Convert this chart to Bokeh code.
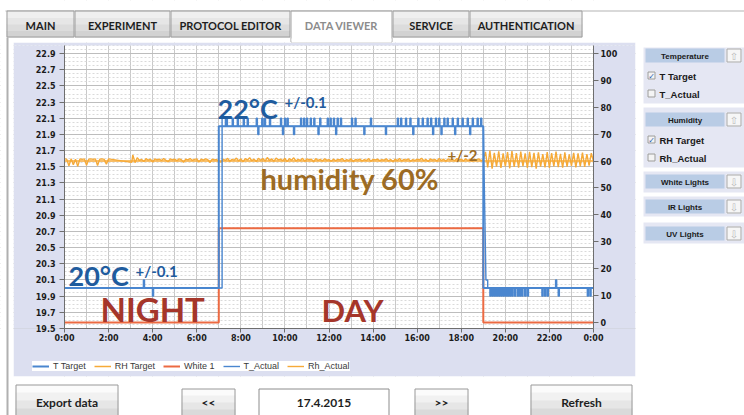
from bokeh.plotting import figure
from bokeh.models import (Range1d, LinearAxis, FixedTicker, PrintfTickFormatter,
                          BoxAnnotation, Label, Legend, LegendItem)
from bokeh.embed import file_html
from bokeh.resources import INLINE

# ------------------------------------------------------------------ data
x_ticks = [0, 2, 4, 6, 8, 10, 12, 14, 16, 18, 20, 22, 24]
x_tick_labels = ["0:00", "2:00", "4:00", "6:00", "8:00", "10:00", "12:00",
                 "14:00", "16:00", "18:00", "20:00", "22:00", "0:00"]
temp_ticks = [19.5, 19.7, 19.9, 20.1, 20.3, 20.5, 20.7, 20.9, 21.1, 21.3,
              21.5, 21.7, 21.9, 22.1, 22.3, 22.5, 22.7, 22.9]
rh_ticks = [0, 10, 20, 30, 40, 50, 60, 70, 80, 90, 100]
hour_grid = list(range(25))

t_target_time = [0, 7, 7, 19, 19, 24]
t_target_val = [20.0, 20.0, 22.0, 22.0, 20.0, 20.0]

rh_target_time = [0, 24]
rh_target_val = [60, 60]

white1_time = [0, 7, 7, 19, 19, 24]
white1_val = [0, 0, 35, 35, 0, 0]

# T_Actual: main course plus short excursions of +/-0.1 degC
t_actual_key_time = [0.0, 7.15, 7.15, 7.3, 7.3, 19.0, 19.12, 19.2, 19.2, 24.0]
t_actual_key_val = [20.0, 20.0, 22.1, 22.1, 22.0, 22.0, 20.1, 20.1, 20.0, 20.0]
t_actual_up_times = [3.58, 7.34, 7.61, 7.84, 8.11, 8.29, 8.70, 8.95, 9.07, 9.30,
                     9.80, 9.98, 10.10, 10.71, 10.85, 10.98, 11.15, 11.31, 11.58,
                     11.92, 12.05, 12.20, 12.37, 12.52, 13.02, 13.18, 13.88, 15.10,
                     15.25, 15.47, 15.67, 16.03, 16.23, 16.45, 16.61, 16.83, 16.98,
                     17.21, 17.36, 17.59, 17.82, 18.04, 18.27, 18.50, 18.72, 18.88,
                     22.28]
t_actual_down_times = [3.99, 8.77, 9.89, 10.39, 11.50, 12.30, 13.58, 14.56, 15.80,
                       16.70, 17.08, 17.70, 18.38, 19.30, 19.40, 19.50, 19.60,
                       19.70, 19.80, 19.90, 20.00, 20.10, 20.20, 20.30, 20.42,
                       20.55, 20.65, 20.75, 20.88, 21.00, 21.66, 21.78, 21.90,
                       22.40, 23.72, 23.84]

# Rh_Actual samples
rh_a_time = [0.0, 0.1, 0.2, 0.3, 0.4, 0.5, 0.6, 0.7, 0.8, 0.9, 1.0, 1.1, 1.2,
             1.3, 1.4, 1.5, 1.6, 1.7, 1.8, 1.9, 2.0, 3.05]
rh_a_val = [60.8, 60.7, 58.2, 60.8, 58.6, 60.7, 58.0, 60.8, 60.6, 60.8, 58.4,
            60.7, 60.8, 60.6, 60.8, 58.3, 60.7, 60.8, 60.6, 58.8, 60.8, 59.5]
rh_b_start = 3.1
rh_b_val = [62.3, 59.4, 61.2, 60.2, 60.6, 59.8, 60.9, 60.3, 60.7, 59.6, 60.8,
            60.4, 60.7, 60.2, 60.9, 60.3, 59.7, 60.8, 60.4, 60.7, 60.1, 60.8,
            60.5, 59.5, 60.7, 60.4, 60.9, 60.2, 60.6, 60.8, 59.6, 60.7, 60.3,
            60.8, 60.5, 59.4, 60.7, 60.4, 60.6, 59.8]
rh_c_start = 7.1
rh_c_val = [59.6, 60.7, 60.2, 61.0, 59.9, 60.6, 60.3, 61.1, 60.0, 60.8, 59.7, 60.9, 60.4, 61.2, 60.1, 60.7, 59.8, 61.0, 60.3, 60.9,
            60.0, 61.3, 60.2, 60.8, 59.9, 61.1, 60.4, 60.7, 60.1, 61.0, 59.8, 60.9, 60.3, 61.2, 60.0, 60.6, 60.2, 61.0, 59.9, 60.8,
            60.4, 60.7, 59.7, 60.9, 60.2, 60.6, 60.0, 60.8, 60.3, 60.5, 59.9, 60.7, 60.1, 60.6, 60.4, 60.9, 60.0, 60.5, 60.2, 60.8,
            59.8, 60.6, 60.3, 60.7, 60.0, 60.5, 60.2, 60.9, 59.9, 60.6, 60.4, 60.7, 60.1, 60.5, 60.3, 60.8, 60.0, 60.6, 59.7, 60.7,
            60.2, 60.9, 60.0, 60.6, 60.3, 60.8, 59.9, 60.5, 60.2, 60.7, 60.4, 61.0, 60.1, 60.6, 59.8, 60.8, 60.3, 60.6, 60.0, 60.9,
            60.2, 60.7, 59.9, 60.8, 60.4, 60.6, 60.1, 60.9, 60.3, 60.7, 60.0, 60.8, 60.2, 60.6, 59.9, 60.7, 60.4, 60.8, 60.1, 60.5]
rh_d_start = 19.1
rh_d_val = [63.4, 57.6, 63.9, 57.2, 63.0, 57.9, 63.6, 57.4, 62.8, 58.0, 63.3, 57.3, 63.7, 57.8, 62.9, 57.5, 63.5, 58.1, 62.8, 57.4,
            63.4, 57.7, 63.0, 57.2, 63.2, 57.9, 62.6, 57.6, 63.3, 57.4, 62.9, 58.0, 63.5, 57.7, 62.7, 57.5, 63.2, 57.9, 62.5, 58.2,
            63.0, 57.6, 62.8, 58.0, 63.1, 57.8, 62.6, 58.3, 62.9, 59.8]
rh_step = 0.1

legend_labels = ["T Target", "RH Target", "White 1", "T_Actual", "Rh_Actual"]
tab_names = ["MAIN", "EXPERIMENT", "PROTOCOL EDITOR", "DATA VIEWER", "SERVICE", "AUTHENTICATION"]
active_tab = "DATA VIEWER"

# ------------------------------------------------------------------ build series
rh_t = list(rh_a_time)
rh_v = list(rh_a_val)
for start, vals in [(rh_b_start, rh_b_val), (rh_c_start, rh_c_val), (rh_d_start, rh_d_val)]:
    rh_t += [round(start + rh_step * i, 2) for i in range(len(vals))]
    rh_v += vals

pts = []
order = 0
for t, v in zip(t_actual_key_time, t_actual_key_val):
    pts.append((t, order, v)); order += 1
SPIKE_W = 0.05
for times, d in [(t_actual_up_times, 0.1), (t_actual_down_times, -0.1)]:
    for t in times:
        base = 22.0 if 7.3 <= t <= 19.0 else 20.0
        for tt, vv in [(t, base), (t, base + d), (t + SPIKE_W, base + d), (t + SPIKE_W, base)]:
            pts.append((tt, order, vv)); order += 1
pts.sort(key=lambda q: (q[0], q[1]))
ta_t = [q[0] for q in pts]
ta_v = [q[2] for q in pts]

# ------------------------------------------------------------------ geometry / styles
LAV = "#dcdff0"
BLUE = "#4a86cf"
ORANGE = "#f6aa38"
RED = "#ec6a42"
ANN_BLUE = "#1f5c9e"
ANN_BROWN = "#9c6b24"
ANN_RED = "#a5362a"

W, H = 744, 415
FL, FR, FT, FB = 64, 593, 45, 328          # plot area in page pixels
XR = (0, 24)
YR = (19.5, 23.0)
RHR = (-2.2, 102.9)


def X(px):
    return XR[0] + (px - FL) / (FR - FL) * (XR[1] - XR[0])


def Y(py):
    return YR[0] + (FB - py) / (FB - FT) * (YR[1] - YR[0])


def RH(py):
    return RHR[0] + (FB - py) / (FB - FT) * (RHR[1] - RHR[0])


# the frame is the whole page; the axes are pinned to the plot-area edges
p = figure(width=W, height=H, output_backend="svg", toolbar_location=None, title=None,
           x_range=Range1d(X(0), X(W)), y_range=Range1d(Y(H), Y(0)),
           min_border=0, min_border_left=0, min_border_right=0,
           min_border_top=0, min_border_bottom=0,
           border_fill_color="white", background_fill_color="white",
           outline_line_color=None)
p.extra_y_ranges = {"rh": Range1d(RH(H), RH(0))}

xax = p.xaxis[0]
lax = p.yaxis[0]
rax = LinearAxis(y_range_name="rh", ticker=FixedTicker(ticks=rh_ticks))
p.add_layout(rax, "right")

xax.ticker = FixedTicker(ticks=x_ticks)
xax.major_label_overrides = dict(zip(x_ticks, x_tick_labels))
xax.fixed_location = YR[0]
xax.bounds = XR
lax.ticker = FixedTicker(ticks=temp_ticks)
lax.formatter = PrintfTickFormatter(format="%.1f")
lax.fixed_location = XR[0]
lax.bounds = YR
rax.fixed_location = XR[1]
rax.bounds = RHR

for ax in (xax, lax, rax):
    ax.axis_line_color = "#6e6e6e"
    ax.major_tick_line_color = "#6e6e6e"
    ax.major_tick_out = 5
    ax.major_tick_in = 0
    ax.minor_tick_line_color = None
    ax.major_label_text_font = "DejaVu Sans"
    ax.major_label_text_font_size = "8px"
    ax.major_label_text_font_style = "bold"
    ax.major_label_text_color = "#1b1b1b"
xax.major_tick_out = 4
xax.major_label_standoff = 1
lax.major_label_standoff = 4
rax.major_label_standoff = 2

p.xgrid.ticker = FixedTicker(ticks=hour_grid)
p.xgrid.grid_line_color = "#c9c9c9"
p.ygrid.ticker = FixedTicker(ticks=temp_ticks,
                             minor_ticks=[round(19.5 + 0.05 * k, 2) for k in range(71)])
p.ygrid.grid_line_color = "#bdbdbd"
p.ygrid.minor_grid_line_color = "#dadada"
p.ygrid.minor_grid_line_dash = "2 2"

r_w1 = p.line(white1_time, white1_val, y_range_name="rh", line_color=RED, line_width=2)
r_rht = p.line(rh_target_time, rh_target_val, y_range_name="rh", line_color=ORANGE, line_width=1.5)
r_rha = p.line(rh_t, rh_v, y_range_name="rh", line_color=ORANGE, line_width=1.4)
r_tt = p.line(t_target_time, t_target_val, line_color=BLUE, line_width=2)
r_ta = p.line(ta_t, ta_v, line_color=BLUE, line_width=1.4)


# ------------------------------------------------------------------ helpers (page pixels)
def box(x0, y0, x1, y1, fill=None, line=None, lw=1, level="annotation"):
    p.add_layout(BoxAnnotation(left=X(x0), right=X(x1), top=Y(y0), bottom=Y(y1),
                               fill_color=fill, fill_alpha=1 if fill else 0,
                               line_color=line, line_alpha=1 if line else 0, line_width=lw,
                               level=level))


def txt(s, px, py, size, color, font="Lato", style="bold", align="left"):
    p.add_layout(Label(x=X(px), y=Y(py), text=s, text_font=font,
                       text_font_size=f"{size}px", text_font_style=style,
                       text_color=color, text_align=align, text_baseline="middle"))


def gradient(x0, y0, x1, y1, colors):
    n = len(colors)
    h = (y1 - y0) / n
    for i, c in enumerate(colors):
        box(x0, y0 + i * h, x1, y0 + (i + 1) * h + (0.5 if i < n - 1 else 0), c)


# lavender panel around the plot area and white page around it (hide grid outside the plot)
U = "underlay"
box(13, 42, 635, FT, LAV, level=U)
box(13, FB, 635, 376, LAV, level=U)
box(13, FT, FL, FB, LAV, level=U)
box(FR, FT, 635, FB, LAV, level=U)
box(0, 0, W, 42, "white", level=U)
box(0, 42, 13, H, "white", level=U)
box(635, 42, W, H, "white", level=U)
box(13, 376, 635, H, "white", level=U)
box(6, 37, 8, H, "#b0b0b0", level=U)

# texts written on the chart (y = vertical centre of the capitals)
txt("22°C", 217, 107.5, 27, ANN_BLUE)
txt("+/-0.1", 284, 101.5, 15, ANN_BLUE)
txt("20°C", 68, 274.5, 27, ANN_BLUE)
txt("+/-0.1", 135, 270.5, 15, ANN_BLUE)
txt("humidity 60%", 260, 177.5, 29, ANN_BROWN)
txt("+/-2", 447, 154.5, 15, ANN_BROWN)
txt("NIGHT", 100, 308.5, 33, ANN_RED)
txt("DAY", 321, 309.5, 31, ANN_RED)

# ---- tabs
box(5, 10, W, 11, "#b4b4b4")
tab_x = [6, 74, 170, 290, 392, 469, 582]
for i, name in enumerate(tab_names):
    x0, x1 = tab_x[i], tab_x[i + 1]
    if name == active_tab:
        box(x0, 11, x1, 42, "white")
        box(x0 + 0.5, 10.5, x1 - 0.5, 41.5, None, "#a2a2a2")
        box(x0 + 1, 38, x1 - 1, 42, "white")
        txt(name, (x0 + x1) / 2, 24.5, 11, "#8c8c8c", align="center")
    else:
        gradient(x0, 11, x1, 37, ["#efefef", "#e6e6e6", "#dcdcdc", "#d2d2d2"])
        box(x0 + 0.5, 10.5, x1 - 0.5, 36.5, None, "#9e9e9e")
        txt(name, (x0 + x1) / 2, 24.5, 11, "#1e1e1e", align="center")

# ---- sidebar
groups = [
    ("Temperature", 47, 103, 48, 62, [("T Target", True, 75), ("T_Actual", False, 93)], "⇧"),
    ("Humidity", 107, 167, 112, 126, [("RH Target", True, 139), ("Rh_Actual", False, 157)], "⇧"),
    ("White Lights", 171, 192, 174, 188, [], "⇩"),
    ("IR Lights", 196, 216, 199, 213, [], "⇩"),
    ("UV Lights", 222, 243, 226, 240, [], "⇩"),
]
for head, gy0, gy1, hy0, hy1, checks, arrow in groups:
    box(643, gy0, W, gy1, "#e5e7f3")
    box(645, hy0, 724, hy1, "#b9cce5")
    txt(head, 684.5, (hy0 + hy1) / 2 + 0.5, 8, "#1a1a1a", font="Liberation Sans", align="center")
    box(726, hy0, 741, hy1, "#f6f6f6")
    box(726.5, hy0 + 0.5, 740.5, hy1 - 0.5, None, "#a9a9a9")
    txt(arrow, 733.5, (hy0 + hy1) / 2 + 0.5, 10, "#b9b9b9", font="DejaVu Sans",
        style="normal", align="center")
    for lab, checked, cy in checks:
        box(647, cy - 4, 655, cy + 4, "#f4f4f4")
        box(647.5, cy - 3.5, 654.5, cy + 3.5, None, "#9a9a9a")
        if checked:
            txt("✓", 651, cy + 0.5, 8, "#2f5fb0", font="DejaVu Sans", align="center")
        txt(lab, 659, cy + 0.5, 9.5, "#1a1a1a", font="Liberation Sans")


# ---- bottom buttons
def button(x0, y0, x1, y1, label):
    gradient(x0, y0, x1, y1, ["#fbfbfb", "#f1f1f1", "#e6e6e6", "#dadada"])
    box(x0 + 0.5, y0 + 0.5, x1 - 0.5, y1 + 10, None, "#9a9a9a")
    txt(label, (x0 + x1) / 2, 402, 12, "#1e1e1e", align="center")


button(15, 384, 118, 416, "Export data")
button(181, 388, 235, 416, "<<")
box(258, 388, 389, 416, "white")
box(258.5, 388.5, 388.5, 426, None, "#8c8c8c")
txt("17.4.2015", 323.5, 402, 12, "#1e1e1e", align="center")
button(414, 388, 468, 416, ">>")
button(530, 384, 632, 416, "Refresh")

# ---- legend of the chart (white strip inside the lavender panel)
legend = Legend(items=[LegendItem(label=legend_labels[0], renderers=[r_tt]),
                       LegendItem(label=legend_labels[1], renderers=[r_rht]),
                       LegendItem(label=legend_labels[2], renderers=[r_w1]),
                       LegendItem(label=legend_labels[3], renderers=[r_ta]),
                       LegendItem(label=legend_labels[4], renderers=[r_rha])],
                orientation="horizontal", location=(32, 44),
                background_fill_color="white", background_fill_alpha=1,
                border_line_color=None,
                label_text_font="Liberation Sans", label_text_font_size="9px",
                label_text_color="#3a3a3a", glyph_width=17, glyph_height=10,
                label_height=10, label_standoff=4, spacing=8, padding=5, margin=0)
p.add_layout(legend)

open("out.html", "w").write(file_html(p, INLINE))
